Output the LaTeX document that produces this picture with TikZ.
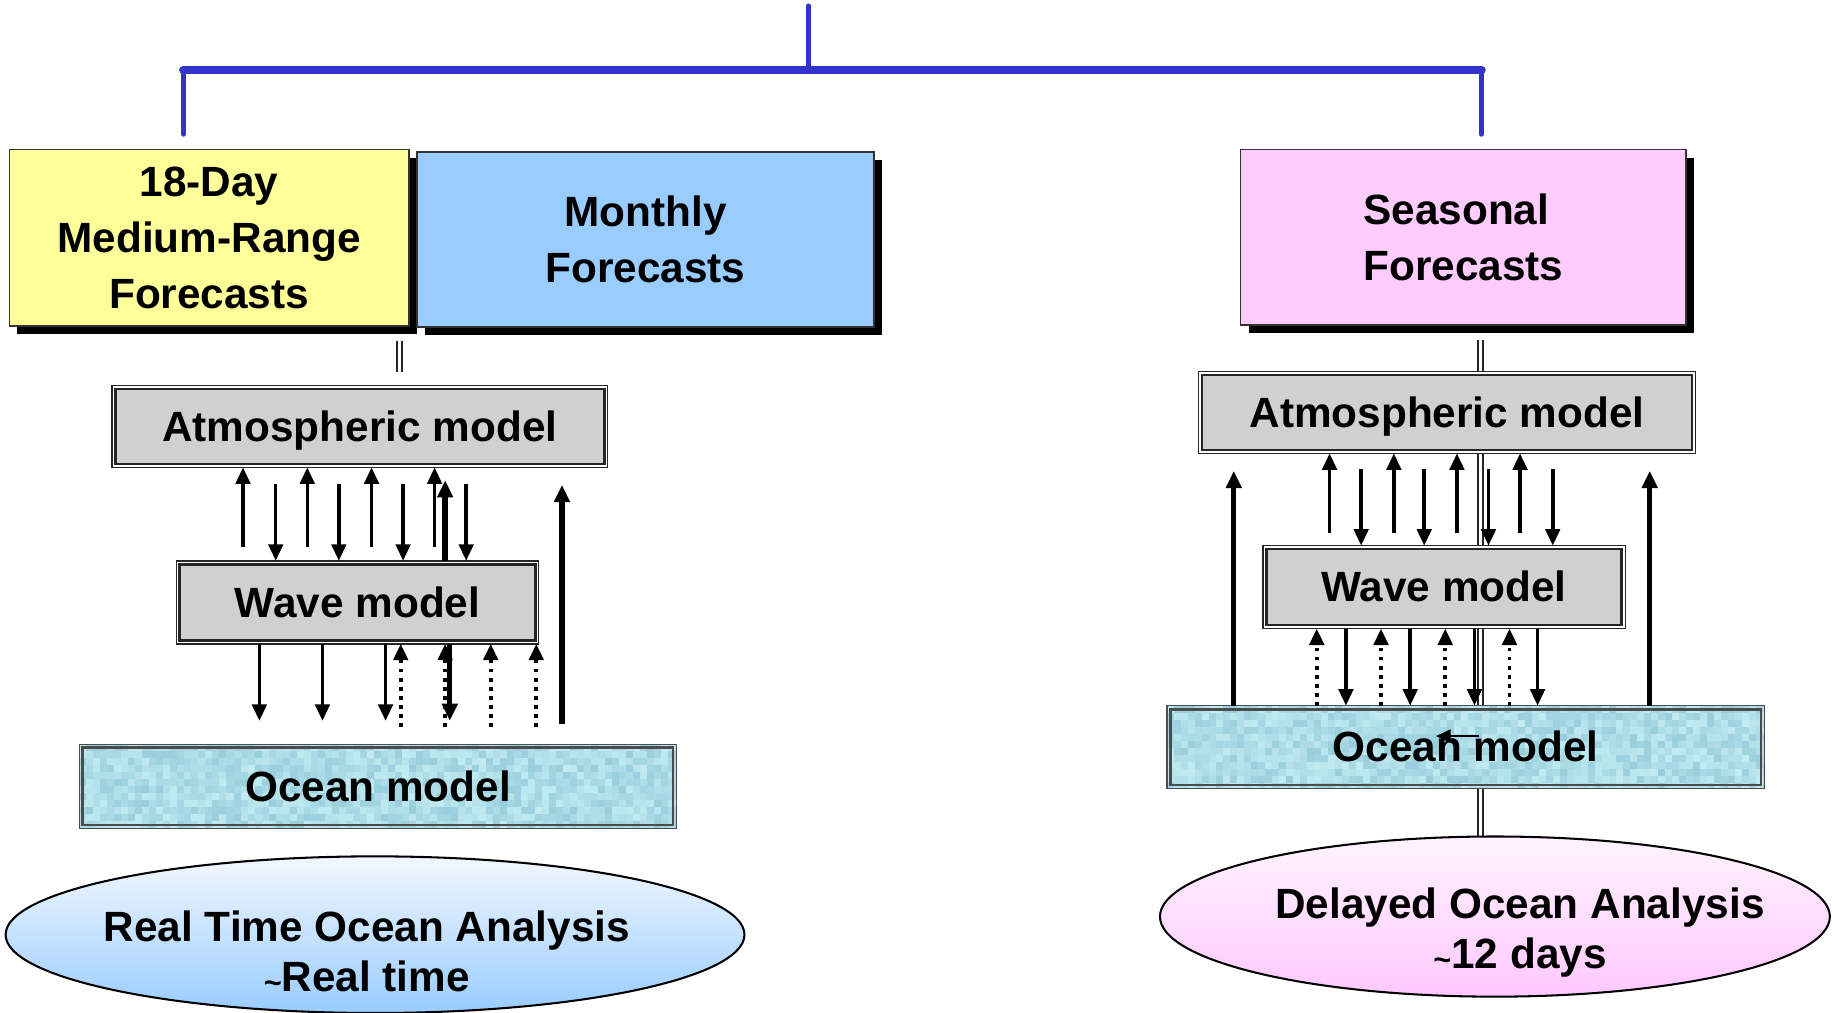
\documentclass[tikz,border=0pt]{standalone}
\usepackage{fontspec}
\setmainfont{Liberation Sans}
\usetikzlibrary{shapes.geometric,arrows.meta,calc,shadows}
\pgfdeclarelayer{bg}
\pgfsetlayers{bg,main}
\definecolor{brk}{RGB}{51,51,204}
\definecolor{fyel}{RGB}{255,255,153}
\definecolor{fblu}{RGB}{153,204,255}
\definecolor{fpnk}{RGB}{255,204,255}
\definecolor{mgray}{RGB}{208,208,208}
\definecolor{ocA}{RGB}{148,202,218}
\definecolor{ocB}{RGB}{198,238,244}
\definecolor{elBt}{RGB}{242,247,255}
\definecolor{elBb}{RGB}{153,204,255}
\definecolor{elPt}{RGB}{255,244,255}
\definecolor{elPb}{RGB}{255,200,255}
\begin{document}
\begin{tikzpicture}[x=0.01cm,y=-0.01cm,
  font=\fontsize{10.3}{13.6}\selectfont\bfseries,
  fcbox/.style={draw=black!80, line width=0.35pt, outer sep=0pt, inner sep=0pt, align=center,
    drop shadow={shadow xshift=0.07cm, shadow yshift=-0.07cm, fill=black, opacity=1}},
  mbox/.style={draw=black!85, line width=0.35pt, fill=white, outer sep=0pt, inner sep=0pt,
    text height=0.72em, text depth=0pt,
    path picture={\draw[line width=0.65pt, fill=mgray]
      ($(path picture bounding box.north west)+(3,3)$) rectangle
      ($(path picture bounding box.south east)+(-3,-3)$);}},
  obox/.style={draw=black!70, line width=0.35pt, fill=ocB, outer sep=0pt, inner sep=0pt,
    text height=0.72em, text depth=0pt,
    path picture={
      \coordinate (ppnw) at (path picture bounding box.north west);
      \foreach \i in {0,...,85}{\foreach \j in {0,...,12}{
          \pgfmathrandominteger{\rr}{10}{90}
          \fill[ocA!\rr!ocB] ($(ppnw)+(6*\i,6*\j)$) rectangle ++(6.3,6.3);}}
      \draw[line width=0.65pt]
      ($(path picture bounding box.north west)+(3,3)$) rectangle
      ($(path picture bounding box.south east)+(-3,-3)$);}},
  anabox/.style={ellipse, draw=black, line width=0.5pt, inner sep=0pt, outer sep=0pt},
  anatext/.style={align=center, font=\fontsize{10.3}{12.2}\selectfont\bfseries},
  tarr/.style={line width=0.85pt, -{Triangle[length=4pt,width=3.5pt]}},
  karr/.style={line width=1.3pt, -{Triangle[length=4.2pt,width=3.7pt]}},
  darr/.style={line width=0.95pt, dash pattern=on 0.9pt off 1.3pt, -{Triangle[length=4pt,width=3.5pt]}},
  dline/.style={draw=black!85, line width=0.45pt, double=white, double distance=0.7pt},
  brkthin/.style={draw=brk, line width=1.15pt, line cap=round},
  brkthick/.style={draw=brk, line width=2.1pt, line cap=round}
]
\pgfmathsetseed{12}
\useasboundingbox (0,0) rectangle (1568,867);

% blue bracket
\coordinate (top) at (692,5);
\coordinate (bj) at (692,60);
\coordinate (bl) at (157,60);
\coordinate (br) at (1268,60);
\coordinate (blE) at (157,115);
\coordinate (brE) at (1268,115);
\draw[brkthin] (top) -- (bj);
\draw[brkthin] (bl) -- (blE);
\draw[brkthin] (br) -- (brE);
\draw[brkthick] (bl) -- (br);

% forecast boxes
\node[fcbox, fill=fyel, minimum width=3.42cm, minimum height=1.51cm] (fcY) at (179,203.5) {18-Day\\Medium-Range\\Forecasts};
\node[fcbox, fill=fblu, minimum width=3.91cm, minimum height=1.5cm] (fcB) at (552.5,205) {Monthly\\Forecasts};
\node[fcbox, fill=fpnk, minimum width=3.81cm, minimum height=1.5cm, align=left] (fcP) at (1252.5,203) {Seasonal\\Forecasts};

% analysis ellipses
\node[anabox, top color=elBt, bottom color=elBb, minimum width=6.32cm, minimum height=1.34cm] (anaL) at (321,800) {};
\node[anatext] (anaLt) at (314,815) {Real Time Ocean Analysis\\{\raisebox{-0.05em}{\fontsize{7.5}{8}\selectfont\textasciitilde}}Real time};
\node[anabox, top color=elPt, bottom color=elPb, minimum width=5.73cm, minimum height=1.37cm] (anaR) at (1279.5,784.5) {};
\node[anatext] (anaRt) at (1301,798) {Delayed Ocean Analysis\\{\raisebox{-0.05em}{\fontsize{7.5}{8}\selectfont\textasciitilde}}12 days};

% model boxes
\node[mbox, minimum width=4.24cm, minimum height=0.7cm] (aL) at (308,365) {Atmospheric model};
\node[mbox, minimum width=3.1cm, minimum height=0.71cm] (wL) at (306,515.5) {Wave model};
\node[obox, minimum width=5.11cm, minimum height=0.72cm] (oL) at (323.5,673) {Ocean model};
\node[mbox, minimum width=4.25cm, minimum height=0.7cm] (aR) at (1238.5,353) {Atmospheric model};
\node[mbox, minimum width=3.1cm, minimum height=0.71cm] (wR) at (1236,502.5) {Wave model};
\node[obox, minimum width=5.11cm, minimum height=0.71cm] (oR) at (1254.5,639.5) {Ocean model};

% double connector lines
\begin{pgfonlayer}{bg}
\draw[dline] ($(fcP.south -| 1267,0)+(0,13)$) -- (anaR.north -| 1267,0);
\end{pgfonlayer}
\draw[dline] ($(fcY.south -| 342,0)+(0,13)$) -- ($(aL.north -| 342,0)+(0,-12)$);

% left arrows
\foreach \x in {208,263,318,372} \draw[tarr] ($(wL.north -| \x,0)+(0,-12)$) -- (aL.south -| \x,0);
\foreach \x in {236,290,345,399} \draw[tarr] ($(aL.south -| \x,0)+(0,14)$) -- (wL.north -| \x,0);
\draw[karr] (wL.north -| 381,0) -- ($(aL.south -| 381,0)+(0,11)$);
\draw[karr] ($(oL.north -| 481,0)+(0,-17)$) -- ($(aL.south -| 481,0)+(0,15)$);
\foreach \x in {222,276,330} \draw[tarr] (wL.south -| \x,0) -- ($(oL.north -| \x,0)+(0,-20)$);
\draw[karr] (wL.south -| 385,0) -- ($(oL.north -| 385,0)+(0,-20)$);
\foreach \x in {343,381,420,459} \draw[darr] ($(oL.north -| \x,0)+(0,-15)$) -- (wL.south -| \x,0);

% right arrows
\foreach \x in {1138,1193,1247,1301} \draw[tarr] ($(wR.north -| \x,0)+(0,-11)$) -- (aR.south -| \x,0);
\foreach \x in {1165,1219,1274,1329} \draw[tarr] ($(aR.south -| \x,0)+(0,13)$) -- (wR.north -| \x,0);
\foreach \x in {1056,1412} \draw[karr] (oR.north -| \x,0) -- ($(aR.south -| \x,0)+(0,15)$);
\foreach \x in {1127,1182,1237,1292} \draw[darr] (oR.north -| \x,0) -- (wR.south -| \x,0);
\foreach \x in {1152,1207,1262,1316} \draw[tarr] (wR.south -| \x,0) -- (oR.north -| \x,0);
\draw[line width=0.5pt, -{Triangle[length=3.6pt,width=3.2pt]}] ($(oR.center)+(11,-9.5)$) -- ($(oR.center)+(-25.5,-9.5)$);
\end{tikzpicture}
\end{document}
